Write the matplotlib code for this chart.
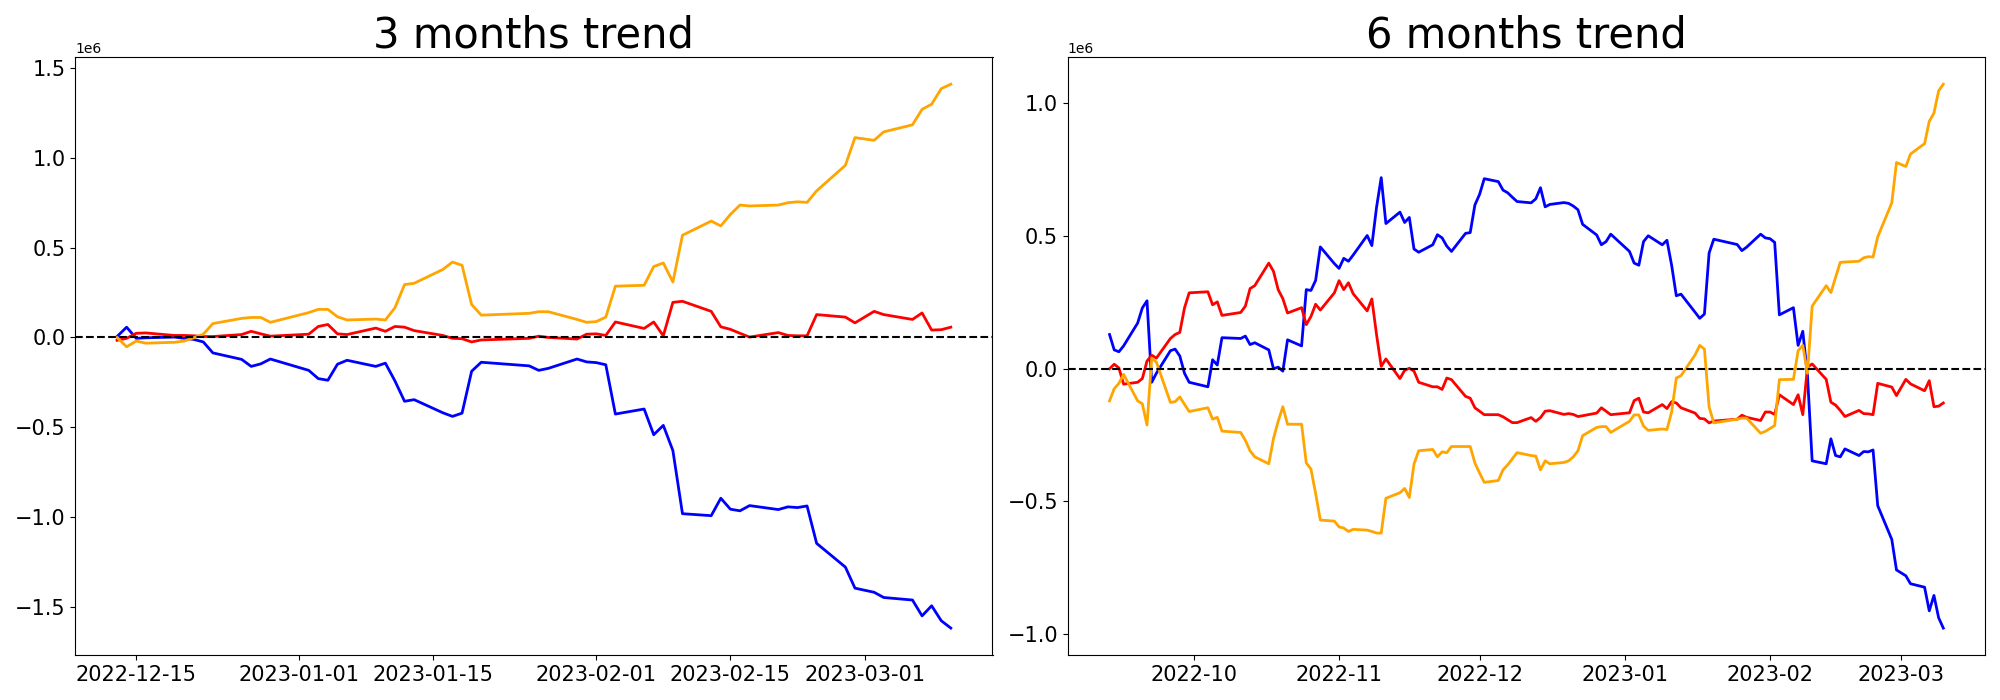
import numpy as np
import pandas as pd
import matplotlib
import matplotlib.pyplot as plt

matplotlib.use('Agg')

# trading days (KRX calendar, holidays removed)
holidays = ["2022-10-03", "2022-10-10", "2022-12-30",
            "2023-01-23", "2023-01-24", "2023-03-01"]
dates_3m = pd.bdate_range("2022-12-13", "2023-03-10", freq="C", holidays=holidays)
dates_6m = pd.bdate_range("2022-09-13", "2023-03-10", freq="C", holidays=holidays)

# cumulative values, in millions
blue_3m = [0.005, 0.057, -0.005, -0.002, 0.002, -0.005, -0.011, -0.025, -0.086, -0.122, -0.161, -0.147, -0.120,
           -0.183, -0.229, -0.238, -0.149, -0.127, -0.161, -0.143, -0.242, -0.355, -0.346, -0.419, -0.439, -0.421,
           -0.188, -0.138, -0.158, -0.183, -0.172, -0.120, -0.136,
           -0.140, -0.152, -0.426, -0.398, -0.541, -0.489, -0.629, -0.980, -0.991, -0.894, -0.955, -0.964, -0.935,
           -0.957, -0.942, -0.946, -0.937, -1.145, -1.277, -1.394,
           -1.417, -1.446, -1.460, -1.548, -1.492, -1.575, -1.616]
red_3m = [-0.016, -0.005, 0.023, 0.025, 0.011, 0.011, 0.009, 0.005, 0.005, 0.016, 0.034, 0.020, 0.007,
          0.018, 0.061, 0.072, 0.020, 0.016, 0.052, 0.034, 0.061, 0.057, 0.038, 0.011, -0.005, -0.007,
          -0.025, -0.014, -0.005, 0.007, 0.000, -0.009, 0.018,
          0.020, 0.011, 0.086, 0.050, 0.086, 0.009, 0.195, 0.201, 0.145, 0.059, 0.045, 0.023, 0.002,
          0.027, 0.011, 0.009, 0.009, 0.127, 0.113, 0.081,
          0.145, 0.127, 0.100, 0.136, 0.041, 0.043, 0.057]
orange_3m = [0.000, -0.052, -0.020, -0.032, -0.027, -0.020, -0.002, 0.018, 0.077, 0.106, 0.111, 0.111, 0.084,
             0.138, 0.156, 0.156, 0.115, 0.097, 0.102, 0.097, 0.165, 0.294, 0.301, 0.378, 0.419, 0.401,
             0.183, 0.124, 0.134, 0.143, 0.143, 0.100, 0.084,
             0.088, 0.113, 0.285, 0.290, 0.394, 0.414, 0.308, 0.568, 0.647, 0.620, 0.684, 0.736, 0.731,
             0.736, 0.749, 0.754, 0.751, 0.815, 0.957, 1.111,
             1.096, 1.143, 1.182, 1.268, 1.297, 1.383, 1.408]

blue_6m = [0.129, 0.071, 0.064, 0.086, 0.172, 0.229, 0.256, -0.051, -0.017, 0.068, 0.074, 0.048, -0.017, -0.051,
           -0.068, 0.034, 0.014, 0.117, 0.114, 0.123, 0.091, 0.098, 0.071, 0.000, 0.006, -0.009, 0.109, 0.086,
           0.298, 0.295, 0.333, 0.459, 0.396,
           0.378, 0.416, 0.405, 0.428, 0.502, 0.464, 0.608, 0.720, 0.547, 0.590, 0.551, 0.570, 0.451, 0.439,
           0.467, 0.505, 0.493, 0.462, 0.442, 0.510, 0.513, 0.617,
           0.657, 0.716, 0.705, 0.673, 0.663, 0.646, 0.630, 0.625, 0.640, 0.682, 0.610, 0.619, 0.626, 0.623,
           0.613, 0.599, 0.544, 0.504, 0.467, 0.479, 0.507,
           0.442, 0.398, 0.390, 0.479, 0.501, 0.467, 0.484, 0.390, 0.275, 0.281, 0.213, 0.190, 0.206, 0.436,
           0.488, 0.468, 0.445, 0.458, 0.507, 0.493,
           0.490, 0.476, 0.203, 0.230, 0.088, 0.141, -0.025, -0.347, -0.358, -0.264, -0.327, -0.332, -0.302,
           -0.327, -0.312, -0.313, -0.306, -0.516, -0.643, -0.758,
           -0.780, -0.810, -0.823, -0.912, -0.854, -0.938, -0.977]
red_6m = [0.000, 0.017, 0.003, -0.058, -0.051, -0.037, 0.029, 0.051, 0.040, 0.114, 0.129, 0.137, 0.229, 0.286,
          0.290, 0.241, 0.252, 0.201, 0.212, 0.236, 0.302, 0.313, 0.398, 0.367, 0.298, 0.264, 0.210, 0.230,
          0.166, 0.197, 0.243, 0.221, 0.286,
          0.332, 0.298, 0.324, 0.283, 0.218, 0.263, 0.129, 0.009, 0.037, -0.037, -0.006, 0.002, -0.009, -0.051,
          -0.068, -0.068, -0.078, -0.035, -0.041, -0.104, -0.111, -0.147,
          -0.160, -0.173, -0.173, -0.181, -0.192, -0.203, -0.203, -0.184, -0.198, -0.184, -0.160, -0.158,
          -0.172, -0.169, -0.172, -0.180, -0.177, -0.167, -0.147, -0.160, -0.173,
          -0.166, -0.120, -0.111, -0.163, -0.166, -0.135, -0.150, -0.124, -0.129, -0.147, -0.167, -0.187,
          -0.189, -0.204, -0.197, -0.190, -0.175, -0.183, -0.195, -0.163,
          -0.163, -0.172, -0.098, -0.135, -0.098, -0.173, 0.006, 0.018, -0.040, -0.126, -0.137, -0.157,
          -0.180, -0.157, -0.169, -0.170, -0.173, -0.055, -0.069, -0.101,
          -0.040, -0.057, -0.083, -0.045, -0.143, -0.141, -0.129]
orange_6m = [-0.121, -0.075, -0.055, -0.021, -0.121, -0.132, -0.212, 0.040, 0.025, -0.127, -0.124, -0.106, -0.134, -0.161,
             -0.147, -0.190, -0.183, -0.235, -0.240, -0.270, -0.309, -0.332, -0.358, -0.263, -0.198, -0.143,
             -0.209, -0.209, -0.355, -0.378, -0.470, -0.570, -0.574,
             -0.596, -0.600, -0.613, -0.605, -0.608, -0.613, -0.619, -0.619, -0.488, -0.467, -0.451, -0.485,
             -0.359, -0.309, -0.304, -0.332, -0.313, -0.316, -0.293, -0.293, -0.293, -0.355,
             -0.393, -0.428, -0.421, -0.381, -0.362, -0.339, -0.316, -0.327, -0.329, -0.381, -0.347, -0.358,
             -0.353, -0.347, -0.332, -0.309, -0.252, -0.221, -0.218, -0.218, -0.240,
             -0.198, -0.174, -0.174, -0.216, -0.232, -0.227, -0.229, -0.163, -0.035, -0.026, 0.052, 0.088,
             0.074, -0.144, -0.204, -0.190, -0.186, -0.186, -0.243, -0.236,
             -0.225, -0.214, -0.041, -0.040, 0.068, 0.088, -0.017, 0.236, 0.313, 0.287, 0.344, 0.401, 0.402,
             0.405, 0.418, 0.422, 0.421, 0.497, 0.625, 0.777,
             0.762, 0.809, 0.848, 0.932, 0.963, 1.047, 1.072]

panels = [
    ("3 months trend", dates_3m, blue_3m, red_3m, orange_3m),
    ("6 months trend", dates_6m, blue_6m, red_6m, orange_6m),
]

fig, axs = plt.subplots(1, 2, figsize=(20, 7), dpi=100)

for ax, (title, dates, blue, red, orange) in zip(axs, panels):
    ax.plot(dates, np.array(blue) * 1e6, color="blue", linewidth=2)
    ax.plot(dates, np.array(red) * 1e6, color="red", linewidth=2)
    ax.plot(dates, np.array(orange) * 1e6, color="orange", linewidth=2)
    ax.axhline(0, color="black", linestyle="--", linewidth=1.5)
    ax.set_title(title, fontsize=30)
    ax.tick_params(axis="both", labelsize=15)

plt.tight_layout()
plt.savefig("out.png")
